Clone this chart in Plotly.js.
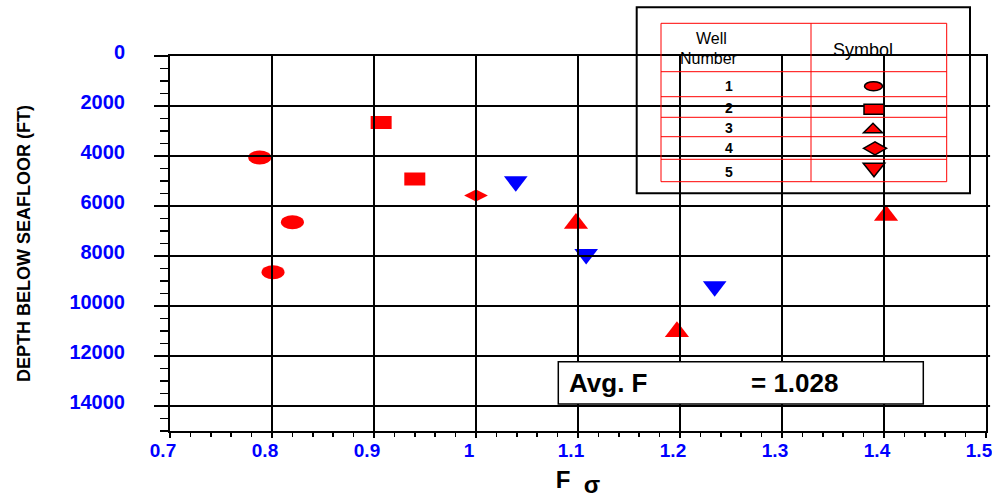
<!DOCTYPE html>
<html>
<head>
<meta charset="utf-8">
<script src="https://cdn.plot.ly/plotly-3.0.1.min.js"></script>
<style>html,body{margin:0;padding:0;background:#fff;}#chart{width:992px;height:498px;}</style>
</head>
<body>
<div id="chart"></div>
<script>
// ---- data ----
const well1F = [0.788, 0.820, 0.801];
const well1Depth = [4060, 6650, 8650];
const well2F = [0.907, 0.940];
const well2Depth = [2660, 4920];
const well3F = [1.098, 1.197, 1.402];
const well3Depth = [6700, 11030, 6380];
const well4F = [1.000];
const well4Depth = [5580];
const well5F = [1.039, 1.108, 1.234];
const well5Depth = [5020, 7930, 9220];
const wellNumbers = ['1', '2', '3', '4', '5'];
const avgF = 1.028;
const xTicks = [0.7, 0.8, 0.9, 1.0, 1.1, 1.2, 1.3, 1.4, 1.5];
const xTickText = ['0.7', '0.8', '0.9', '1', '1.1', '1.2', '1.3', '1.4', '1.5'];
const yTicks = [0, 2000, 4000, 6000, 8000, 10000, 12000, 14000];
const yTickText = ['0', '2000', '4000', '6000', '8000', '10000', '12000', '14000'];

// ---- layout helpers (pixel -> paper for decorations) ----
const PL = 170, PT = 56, PW = 816, PH = 375;
const fx = p => (p - PL) / PW;
const fy = p => (PT + PH - p) / PH;
const FONT = 'Liberation Sans, Arial, sans-serif';
const RED = '#ff0000', BLUE = '#0000ff';

const shapes = [];
// well 1 ellipses anchored at data positions
for (let i = 0; i < well1F.length; i++) {
  shapes.push({type: 'circle', xref: 'x', yref: 'y', xsizemode: 'pixel', ysizemode: 'pixel',
    xanchor: well1F[i], yanchor: well1Depth[i], x0: -11.5, x1: 11.5, y0: -7, y1: 7,
    fillcolor: RED, line: {width: 0}, layer: 'above'});
}
// gridlines drawn over the markers
xTicks.slice(1, -1).forEach(v => shapes.push({type: 'line', xref: 'x', yref: 'paper', x0: v, x1: v, y0: 0, y1: 1,
  line: {color: '#000', width: 2}, layer: 'above'}));
yTicks.slice(1).forEach(v => shapes.push({type: 'line', xref: 'paper', yref: 'y', x0: 0, x1: 1.005, y0: v, y1: v,
  line: {color: '#000', width: 2}, layer: 'above'}));
// legend table
shapes.push({type: 'rect', xref: 'paper', yref: 'paper', x0: fx(636.7), x1: fx(970), y0: fy(7.3), y1: fy(193.3),
  line: {color: '#000', width: 2}, fillcolor: 'rgba(0,0,0,0)'});
shapes.push({type: 'rect', xref: 'paper', yref: 'paper', x0: fx(661), x1: fx(946.7), y0: fy(23.3), y1: fy(181.7),
  line: {color: RED, width: 1}, fillcolor: 'rgba(0,0,0,0)'});
shapes.push({type: 'line', xref: 'paper', yref: 'paper', x0: fx(811), x1: fx(811), y0: fy(23.3), y1: fy(181.7),
  line: {color: RED, width: 1}});
[71.7, 96.7, 117.3, 136.7, 159.3].forEach(r => shapes.push({type: 'line', xref: 'paper', yref: 'paper',
  x0: fx(661), x1: fx(946.7), y0: fy(r), y1: fy(r), line: {color: RED, width: 1}}));
// legend symbols
const symLine = {color: '#000', width: 1.5};
const legRowY = [86.2, 109.3, 128, 148.3, 170];
shapes.push({type: 'circle', xref: 'paper', yref: 'paper', xsizemode: 'pixel', ysizemode: 'pixel',
  xanchor: fx(873.5), yanchor: fy(legRowY[0]), x0: -9, x1: 9, y0: -4.5, y1: 4.5, fillcolor: RED, line: symLine});
shapes.push({type: 'rect', xref: 'paper', yref: 'paper', xsizemode: 'pixel', ysizemode: 'pixel',
  xanchor: fx(874), yanchor: fy(legRowY[1]), x0: -10, x1: 10, y0: -5, y1: 5, fillcolor: RED, line: symLine});
shapes.push({type: 'path', xref: 'paper', yref: 'paper', xsizemode: 'pixel', ysizemode: 'pixel',
  xanchor: fx(873), yanchor: fy(legRowY[2]), path: 'M-9.5,-4.7 L9.5,-4.7 L0,4.7 Z', fillcolor: RED, line: symLine});
shapes.push({type: 'path', xref: 'paper', yref: 'paper', xsizemode: 'pixel', ysizemode: 'pixel',
  xanchor: fx(875), yanchor: fy(legRowY[3]), path: 'M-11.5,0 L0,6.5 L11.5,0 L0,-6.5 Z', fillcolor: RED, line: symLine});
shapes.push({type: 'path', xref: 'paper', yref: 'paper', xsizemode: 'pixel', ysizemode: 'pixel',
  xanchor: fx(874), yanchor: fy(legRowY[4]), path: 'M-10.8,6.7 L10.8,6.7 L0,-6.7 Z', fillcolor: RED, line: symLine});
// average box
shapes.push({type: 'rect', xref: 'paper', yref: 'paper', x0: fx(558.3), x1: fx(923.3), y0: fy(361.7), y1: fy(404),
  line: {color: '#000', width: 1.5}, fillcolor: '#fff', layer: 'above'});

const annotations = [];
const ann = (text, px, py, size, bold, xanchor) => annotations.push({
  text: text, xref: 'paper', yref: 'paper', x: fx(px), y: fy(py), showarrow: false,
  xanchor: xanchor || 'center', yanchor: 'middle',
  font: {family: FONT, size: size, color: '#000', weight: bold ? 'bold' : 'normal'}});
ann('Well', 711, 38.3, 16, false);
ann('Number', 709, 58.3, 16, false);
ann('Symbol', 863, 50, 18, false);
wellNumbers.forEach((n, i) => ann(n, 729, [86, 108.3, 127.7, 148.3, 171.7][i], 14, true));
ann('Avg. F', 567, 383, 26, true, 'left');
ann('= ' + avgF.toFixed(3), 749, 383, 26, true, 'left');

const traces = [
  {type: 'scatter', mode: 'markers', name: 'Well 1', x: well1F, y: well1Depth,
    marker: {symbol: 'circle', size: 14, color: 'rgba(0,0,0,0)'}},
  {type: 'scatter', mode: 'markers', name: 'Well 2', x: well2F, y: well2Depth,
    marker: {symbol: 'line-ew-open', size: 15, color: RED, line: {width: 13, color: RED}}},
  {type: 'scatter', mode: 'markers', name: 'Well 3', x: well3F, y: well3Depth,
    marker: {symbol: 'triangle-up', size: 21, color: RED, line: {width: 0}}},
  {type: 'scatter', mode: 'markers', name: 'Well 4', x: well4F, y: well4Depth,
    marker: {symbol: 'diamond-wide', size: 17, color: RED, line: {width: 0}}},
  {type: 'scatter', mode: 'markers', name: 'Well 5', x: well5F, y: well5Depth,
    marker: {symbol: 'triangle-down', size: 20.5, color: BLUE, line: {width: 0}}}
];

const layout = {
  width: 992, height: 498,
  margin: {l: PL, r: 992 - PL - PW, t: PT, b: 498 - PT - PH},
  paper_bgcolor: '#fff', plot_bgcolor: '#fff',
  showlegend: false,
  font: {family: FONT},
  xaxis: {
    range: [0.7, 1.5], tickmode: 'array', tickvals: xTicks, ticktext: xTickText,
    showgrid: false, zeroline: false,
    showline: true, linecolor: '#000', linewidth: 2, mirror: true,
    ticks: 'outside', ticklen: 5, tickwidth: 1.5, tickcolor: '#000',
    minor: {tick0: 0.7, dtick: 0.02, ticks: 'outside', ticklen: 4, tickwidth: 1.5, tickcolor: '#000', showgrid: false},
    tickfont: {family: FONT, size: 19, color: BLUE, weight: 'bold'},
    ticklabelstandoff: -4, ticklabelshift: -7, ticklabeloverflow: 'allow',
    title: {text: '<b>F&nbsp;&nbsp;<sub><span style="font-size:24px">σ</span></sub></b>',
      font: {family: FONT, size: 24, color: '#000'}, standoff: 18}
  },
  yaxis: {
    range: [15000, 0], tickmode: 'array', tickvals: yTicks, ticktext: yTickText,
    showgrid: false, zeroline: false,
    showline: true, linecolor: '#000', linewidth: 2, mirror: true,
    ticks: 'outside', ticklen: 14, tickwidth: 1.5, tickcolor: '#000',
    minor: {tick0: 0, dtick: 500, ticks: 'outside', ticklen: 8, tickwidth: 1.5, tickcolor: '#000', showgrid: false},
    tickfont: {family: FONT, size: 20, color: BLUE, weight: 'bold'},
    ticklabelstandoff: 25, ticklabelshift: 4,
    title: {text: 'DEPTH BELOW SEAFLOOR (FT)', font: {family: FONT, size: 18, color: '#000', weight: 'bold'}, standoff: 34}
  },
  shapes: shapes,
  annotations: annotations
};

Plotly.newPlot('chart', traces, layout, {displayModeBar: false, staticPlot: true});
</script>
</body>
</html>
